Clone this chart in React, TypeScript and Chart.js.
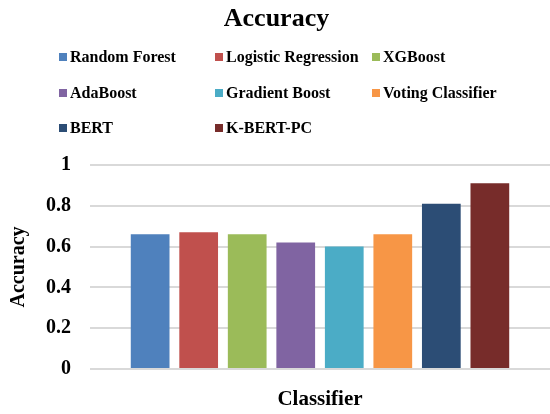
import React, { useEffect, useRef } from "react";
import { Chart, registerables } from "chart.js";

Chart.register(...registerables);

const categories = [""];
const seriesNames = [
  "Random Forest",
  "Logistic Regression",
  "XGBoost",
  "AdaBoost",
  "Gradient Boost",
  "Voting Classifier",
  "BERT",
  "K-BERT-PC",
];
const accuracyValues = [0.66, 0.67, 0.66, 0.62, 0.6, 0.66, 0.81, 0.91];
const seriesColors = [
  "#4F81BD",
  "#C0504D",
  "#9BBB59",
  "#8064A2",
  "#4BACC6",
  "#F79646",
  "#2C4D75",
  "#772C2A",
];
const yTickValues = [0, 0.2, 0.4, 0.6, 0.8, 1];

const FONT = "'Liberation Serif', 'Times New Roman', serif";

const gridLegend = {
  id: "gridLegend",
  afterDraw(chart: any) {
    const ctx = chart.ctx;
    const colX = [59, 215, 372];
    const rowY = [57, 93, 128];
    const box = 8;
    ctx.save();
    ctx.font = `bold 16px ${FONT}`;
    ctx.textBaseline = "middle";
    ctx.textAlign = "left";
    chart.data.datasets.forEach((ds: any, i: number) => {
      const c = i % 3;
      const r = Math.floor(i / 3);
      const x = colX[c];
      const y = rowY[r];
      ctx.fillStyle = ds.backgroundColor;
      ctx.fillRect(x, y - box / 2, box, box);
      ctx.fillStyle = "#000";
      ctx.fillText(ds.label, x + 11, y + 0.5);
    });
    ctx.restore();
  },
};

export default function App() {
  const ref = useRef<HTMLCanvasElement>(null);

  useEffect(() => {
    if (!ref.current) return;
    Chart.defaults.font.family = FONT;
    const chart = new Chart(ref.current, {
      type: "bar",
      data: {
        labels: categories,
        datasets: seriesNames.map((name, i) => ({
          label: name,
          data: [accuracyValues[i]],
          backgroundColor: seriesColors[i],
          borderWidth: 0,
          barPercentage: 0.798,
          categoryPercentage: 0.844,
        })),
      },
      options: {
        responsive: false,
        animation: false,
        layout: { padding: { top: 0, left: 0, right: -3, bottom: 0 } },
        plugins: {
          legend: { display: false },
          tooltip: { enabled: false },
          title: {
            display: true,
            text: "Accuracy",
            color: "#000",
            font: { family: FONT, size: 26, weight: "bold" },
            padding: { top: 4, bottom: 129.8 },
          },
        },
        scales: {
          x: {
            grid: { display: false },
            border: { display: false },
            ticks: { display: false },
            title: {
              display: true,
              text: "Classifier",
              color: "#000",
              font: { family: FONT, size: 21, weight: "bold" },
              padding: { top: 0, bottom: 2 },
            },
            afterFit: (scale: any) => {
              scale.height = 45;
            },
          },
          y: {
            min: 0,
            max: 1,
            afterBuildTicks: (scale: any) => {
              scale.ticks = yTickValues.map((v) => ({ value: v }));
            },
            grid: { color: "#d9d9d9", lineWidth: 2, drawTicks: false },
            border: { display: false },
            ticks: {
              padding: 19,
              color: "#000",
              font: { family: FONT, size: 20, weight: "bold" },
              callback: (v: any) => String(Math.round(Number(v) * 10) / 10),
            },
            title: {
              display: true,
              text: "Accuracy",
              color: "#000",
              font: { family: FONT, size: 20, weight: "bold" },
              padding: { top: 7, bottom: 0 },
            },
            afterFit: (scale: any) => {
              scale.width = 90;
            },
          },
        },
      },
      plugins: [gridLegend],
    });
    return () => chart.destroy();
  }, []);

  return (
    <div style={{ position: "fixed", left: 0, top: 0, width: 550, height: 414, background: "#fff" }}>
      <canvas ref={ref} width={550} height={414} style={{ width: 550, height: 414 }} />
    </div>
  );
}
